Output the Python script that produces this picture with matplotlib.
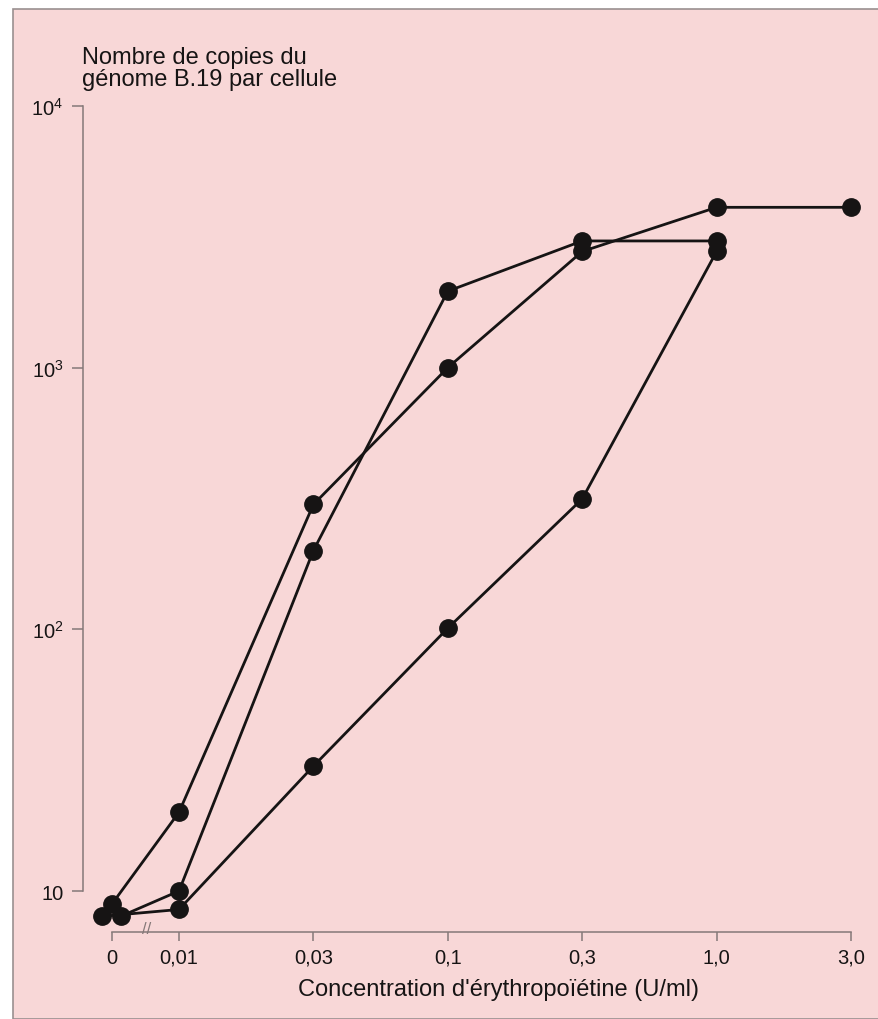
import numpy as np
import matplotlib.pyplot as plt
from matplotlib.patches import Rectangle

plt.rcParams['font.family'] = ['Liberation Sans', 'DejaVu Sans']
plt.rcParams['mathtext.fontset'] = 'custom'
plt.rcParams['mathtext.rm'] = 'Liberation Sans'
plt.rcParams['mathtext.it'] = 'Liberation Sans'

# concentrations d'érythropoïétine (U/ml), axe en catégories
conc = ['0', '0,01', '0,03', '0,1', '0,3', '1,0', '3,0']
# nombre de copies du génome B.19 par cellule, trois expériences
serie_a = [8.9, 20, 300, 1000, 2780, 4100, 4100]
serie_b = [8.0, 10, 200, 1960, 3050, 3050]
serie_c = [8.0, 8.5, 30, 101, 315, 2780]

pink = '#f8d7d7'
grey = '#857878'
ink = '#161414'

fig = plt.figure(figsize=(8.79, 10.2), dpi=100)
fig.patch.set_facecolor('white')
fig.patches.append(Rectangle((13/879, 0), 1, 1 - 10/1020, transform=fig.transFigure,
                             facecolor=pink, edgecolor='#9a9090', lw=1.2, zorder=-5))

ax = fig.add_axes([83/879, 1 - 933/1020, (862 - 83)/879, (933 - 100)/1020])
ax.set_facecolor('none')
ax.set_zorder(2)

pos = np.arange(len(conc)) - 1.0
pos[0] = -0.5   # le 0 est placé avant la coupure de l'axe
shift0 = {'a': 0.0, 'b': 0.065, 'c': -0.075}   # petit décalage des points à 0

for key, ys in (('a', serie_a), ('b', serie_b), ('c', serie_c)):
    xs = pos[:len(ys)].copy()
    xs[0] += shift0[key]
    ax.plot(xs, ys, color=ink, lw=2.0, marker='o', ms=12.5,
            markerfacecolor=ink, markeredgecolor=ink, zorder=3, clip_on=False)

ax.set_yscale('log')
s = 134.4
ax.set_xlim((83 - 179)/s, (862 - 179)/s)
ax.set_ylim(10**(1 - 41/261.7), 10**(4 + 7/261.7))

ax.set_yticks([10, 100, 1000, 10000])
ax.set_yticklabels(['10', '$10^2$', '$10^3$', '$10^4$'])
ax.yaxis.set_minor_locator(plt.NullLocator())
ax.set_xticks(pos)
ax.set_xticklabels(conc)

for side in ('top', 'right'):
    ax.spines[side].set_visible(False)
for side in ('left', 'bottom'):
    ax.spines[side].set_color(grey)
    ax.spines[side].set_linewidth(1.1)
ax.spines['left'].set_bounds(10, 10000)
ax.spines['bottom'].set_bounds(-0.5, 5)

ax.tick_params(axis='y', length=8, width=1.1, color=grey, pad=6,
               labelsize=14.5, labelcolor=ink)
ax.tick_params(axis='x', length=6.5, width=1.1, color=grey, pad=5,
               labelsize=14.5, labelcolor=ink)

# coupure de l'axe des abscisses
ax.text((147 - 179)/s, 0.004, '//', transform=ax.get_xaxis_transform(),
        ha='center', va='center', fontsize=12, color=grey)

fig.text(499/879, 1 - 990/1020, "Concentration d'érythropoïétine (U/ml)",
         ha='center', va='center', fontsize=17, color=ink)
fig.text(82/879, 1 - 47/1020, 'Nombre de copies du\ngénome B.19 par cellule',
         ha='left', va='top', fontsize=17, color=ink, linespacing=1.02)

fig.savefig('out.png', dpi=100)
